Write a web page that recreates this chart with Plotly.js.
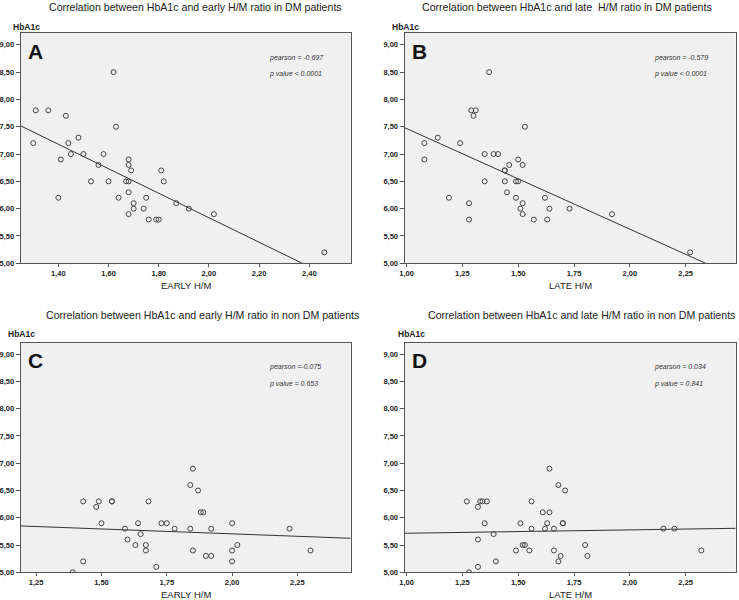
<!DOCTYPE html>
<html>
<head>
<meta charset="utf-8">
<script src="https://cdn.plot.ly/plotly-3.0.1.min.js"></script>
<style>html,body{margin:0;padding:0;background:#fff;}#chart{width:739px;height:600px;}</style>
</head>
<body>
<div id="chart"></div>
<script>
// ---------- DATA ----------
const titles = [
  "Correlation between HbA1c and early H/M ratio in DM patients",
  "Correlation between HbA1c and late  H/M ratio in DM patients",
  "Correlation between HbA1c and early H/M ratio in non DM patients",
  "Correlation between HbA1c and late H/M ratio in non DM patients"
];
const panelLetters = ["A", "B", "C", "D"];
const xTitles = ["EARLY H/M", "LATE H/M", "EARLY H/M", "LATE H/M"];
const yTitle = "HbA1c";
const statLines1 = ["pearson = -0.697", "pearson = -0.579", "pearson =-0.075", "pearson = 0.034"];
const statLines2 = ["p value < 0.0001", "p value < 0.0001", "p value = 0.653", "p value = 0.841"];

// Panel A: DM, early H/M
const earlyDM_x = [1.62,1.31,1.36,1.43,1.63,1.48,1.30,1.44,1.45,1.50,1.58,1.41,1.68,1.56,1.68,1.69,1.81,1.53,1.60,1.67,1.68,1.82,1.68,1.40,1.64,1.75,1.70,1.87,1.70,1.74,1.92,1.68,2.02,1.76,1.79,1.80,2.46];
const earlyDM_y = [8.5,7.8,7.8,7.7,7.5,7.3,7.2,7.2,7.0,7.0,7.0,6.9,6.9,6.8,6.8,6.7,6.7,6.5,6.5,6.5,6.5,6.5,6.3,6.2,6.2,6.2,6.1,6.1,6.0,6.0,6.0,5.9,5.9,5.8,5.8,5.8,5.2];
// Panel B: DM, late H/M
const lateDM_x = [1.37,1.29,1.31,1.30,1.53,1.14,1.08,1.24,1.35,1.39,1.41,1.08,1.50,1.46,1.52,1.44,1.44,1.35,1.44,1.49,1.50,1.45,1.19,1.49,1.62,1.28,1.52,1.51,1.64,1.73,1.52,1.92,1.28,1.57,1.63,2.27];
const lateDM_y = [8.5,7.8,7.8,7.7,7.5,7.3,7.2,7.2,7.0,7.0,7.0,6.9,6.9,6.8,6.8,6.7,6.7,6.5,6.5,6.5,6.5,6.3,6.2,6.2,6.2,6.1,6.1,6.0,6.0,6.0,5.9,5.9,5.8,5.8,5.8,5.2];
// Panel C: non DM, early H/M
const earlyNonDM_x = [1.85,1.84,1.87,1.43,1.49,1.54,1.54,1.68,1.48,1.88,1.89,1.50,1.64,1.73,1.75,2.00,1.59,1.78,1.84,1.92,2.22,1.65,1.60,1.63,1.67,2.02,1.67,1.85,2.00,2.30,1.90,1.92,1.43,2.00,1.71,1.39];
const earlyNonDM_y = [6.9,6.6,6.5,6.3,6.3,6.3,6.3,6.3,6.2,6.1,6.1,5.9,5.9,5.9,5.9,5.9,5.8,5.8,5.8,5.8,5.8,5.7,5.6,5.5,5.5,5.5,5.4,5.4,5.4,5.4,5.3,5.3,5.2,5.2,5.1,5.0];
// Panel D: non DM, late H/M
const lateNonDM_x = [1.64,1.68,1.71,1.27,1.33,1.34,1.36,1.56,1.32,1.61,1.64,1.35,1.51,1.63,1.70,1.70,1.56,1.62,1.66,2.15,2.20,1.39,1.32,1.52,1.53,1.80,1.49,1.55,1.66,2.32,1.69,1.81,1.40,1.68,1.32,1.28];
const lateNonDM_y = [6.9,6.6,6.5,6.3,6.3,6.3,6.3,6.3,6.2,6.1,6.1,5.9,5.9,5.9,5.9,5.9,5.8,5.8,5.8,5.8,5.8,5.7,5.6,5.5,5.5,5.5,5.4,5.4,5.4,5.4,5.3,5.3,5.2,5.2,5.1,5.0];

// Fitted regression lines as drawn in the picture (HbA1c = intercept + slope * H/M)
const fitIntercept = [10.318, 9.309, 6.063, 5.655];
const fitSlope = [-2.242, -1.842, -0.179, 0.0613];

const xTicksA = [1.40,1.60,1.80,2.00,2.20,2.40];
const xTicksB = [1.00,1.25,1.50,1.75,2.00,2.25];
const xTicksC = [1.25,1.50,1.75,2.00,2.25];
const xTicksD = [1.00,1.25,1.50,1.75,2.00,2.25];
const yTicks = [5.0,5.5,6.0,6.5,7.0,7.5,8.0,8.5,9.0];

// ---------- LAYOUT / DRAWING ----------
const W = 739, H = 600;
const FONT = "Liberation Sans, Arial, sans-serif";
const panels = [
  {x: earlyDM_x, y: earlyDM_y, ticks: xTicksA, xr: [1.25, 2.565], box: [20.7, 350.7, 33.3, 263.3], tc: 195.5, ty: 7.5, hx: 11, hy: 27},
  {x: lateDM_x, y: lateDM_y, ticks: xTicksB, xr: [0.991, 2.474], box: [404.5, 735.7, 33.3, 263.3], tc: 567, ty: 7.5, hx: 390, hy: 27},
  {x: earlyNonDM_x, y: earlyNonDM_y, ticks: xTicksC, xr: [1.191, 2.454], box: [20.7, 350.7, 342.7, 572.3], tc: 202, ty: 315, hx: 6, hy: 333.5},
  {x: lateNonDM_x, y: lateNonDM_y, ticks: xTicksD, xr: [0.991, 2.474], box: [404.5, 735.7, 342.7, 572.3], tc: 581.5, ty: 315, hx: 396, hy: 333.5}
];
const yRange = [5, 9.21];

const traces = [];
const layout = {
  width: W, height: H,
  margin: {l:0, r:0, t:0, b:0},
  paper_bgcolor: "#ffffff",
  plot_bgcolor: "#f0f0f0",
  separators: ",.",
  showlegend: false,
  font: {family: FONT, color: "#222"},
  annotations: []
};
function px(x){ return x/W; }
function py(y){ return 1 - y/H; }

panels.forEach((p, i) => {
  const k = i === 0 ? "" : String(i+1);
  const xa = "x" + k, ya = "y" + k;
  traces.push({
    x: p.xr, y: p.xr.map(v => fitIntercept[i] + fitSlope[i]*v),
    xaxis: xa, yaxis: ya, type: "scatter", mode: "lines",
    line: {color: "#333", width: 1}, hoverinfo: "skip"
  });
  traces.push({
    x: p.x, y: p.y, xaxis: xa, yaxis: ya, type: "scatter", mode: "markers",
    marker: {symbol: "circle-open", size: 5, color: "#444", line: {width: 1, color: "#444"}}
  });
  const [L, R, T, B] = p.box;
  layout["xaxis" + k] = {
    domain: [px(L), px(R)], range: p.xr, anchor: ya,
    tickvals: p.ticks, tickformat: ".2f", ticks: "outside", ticklen: 3, tickcolor: "#555",
    showline: true, mirror: true, linecolor: "#555", linewidth: 1,
    showgrid: false, zeroline: false,
    tickfont: {family: FONT, size: 7.5, color: "#222", weight: "bold"}
  };
  layout["yaxis" + k] = {
    domain: [py(B), py(T)], range: yRange, anchor: xa,
    tickvals: yTicks, tickformat: ".2f", ticks: "outside", ticklen: 4, tickcolor: "#555",
    showline: true, mirror: true, linecolor: "#555", linewidth: 1,
    showgrid: false, zeroline: false,
    tickfont: {family: FONT, size: 7.5, color: "#222", weight: "bold"}
  };
  const ann = layout.annotations;
  ann.push({xref:"paper", yref:"paper", x: px(p.tc), y: py(p.ty), text: titles[i],
    showarrow:false, xanchor:"center", yanchor:"middle", font:{family:FONT, size:10.6, color:"#222"}});
  ann.push({xref:"paper", yref:"paper", x: px(p.hx), y: py(p.hy), text: yTitle,
    showarrow:false, xanchor:"left", yanchor:"middle", font:{family:FONT, size:8.5, color:"#222", weight:"bold"}});
  ann.push({xref:"paper", yref:"paper", x: px((L+R)/2), y: py(B+22), text: xTitles[i],
    showarrow:false, xanchor:"center", yanchor:"middle", font:{family:FONT, size:9.5, color:"#222"}});
  ann.push({xref:"paper", yref:"paper", x: px(L+5), y: py(T+18), text: panelLetters[i],
    showarrow:false, xanchor:"left", yanchor:"middle", font:{family:FONT, size:21, color:"#111", weight:"bold"}});
  ann.push({xref:"paper", yref:"paper", x: px(R-84), y: py(T+24.5), text: "<i>"+statLines1[i]+"</i>",
    showarrow:false, xanchor:"left", yanchor:"middle", font:{family:FONT, size:7, color:"#333"}});
  ann.push({xref:"paper", yref:"paper", x: px(R-84), y: py(T+41), text: "<i>"+statLines2[i]+"</i>",
    showarrow:false, xanchor:"left", yanchor:"middle", font:{family:FONT, size:7, color:"#333"}});
});

Plotly.newPlot("chart", traces, layout, {displayModeBar: false, staticPlot: true});
</script>
</body>
</html>
